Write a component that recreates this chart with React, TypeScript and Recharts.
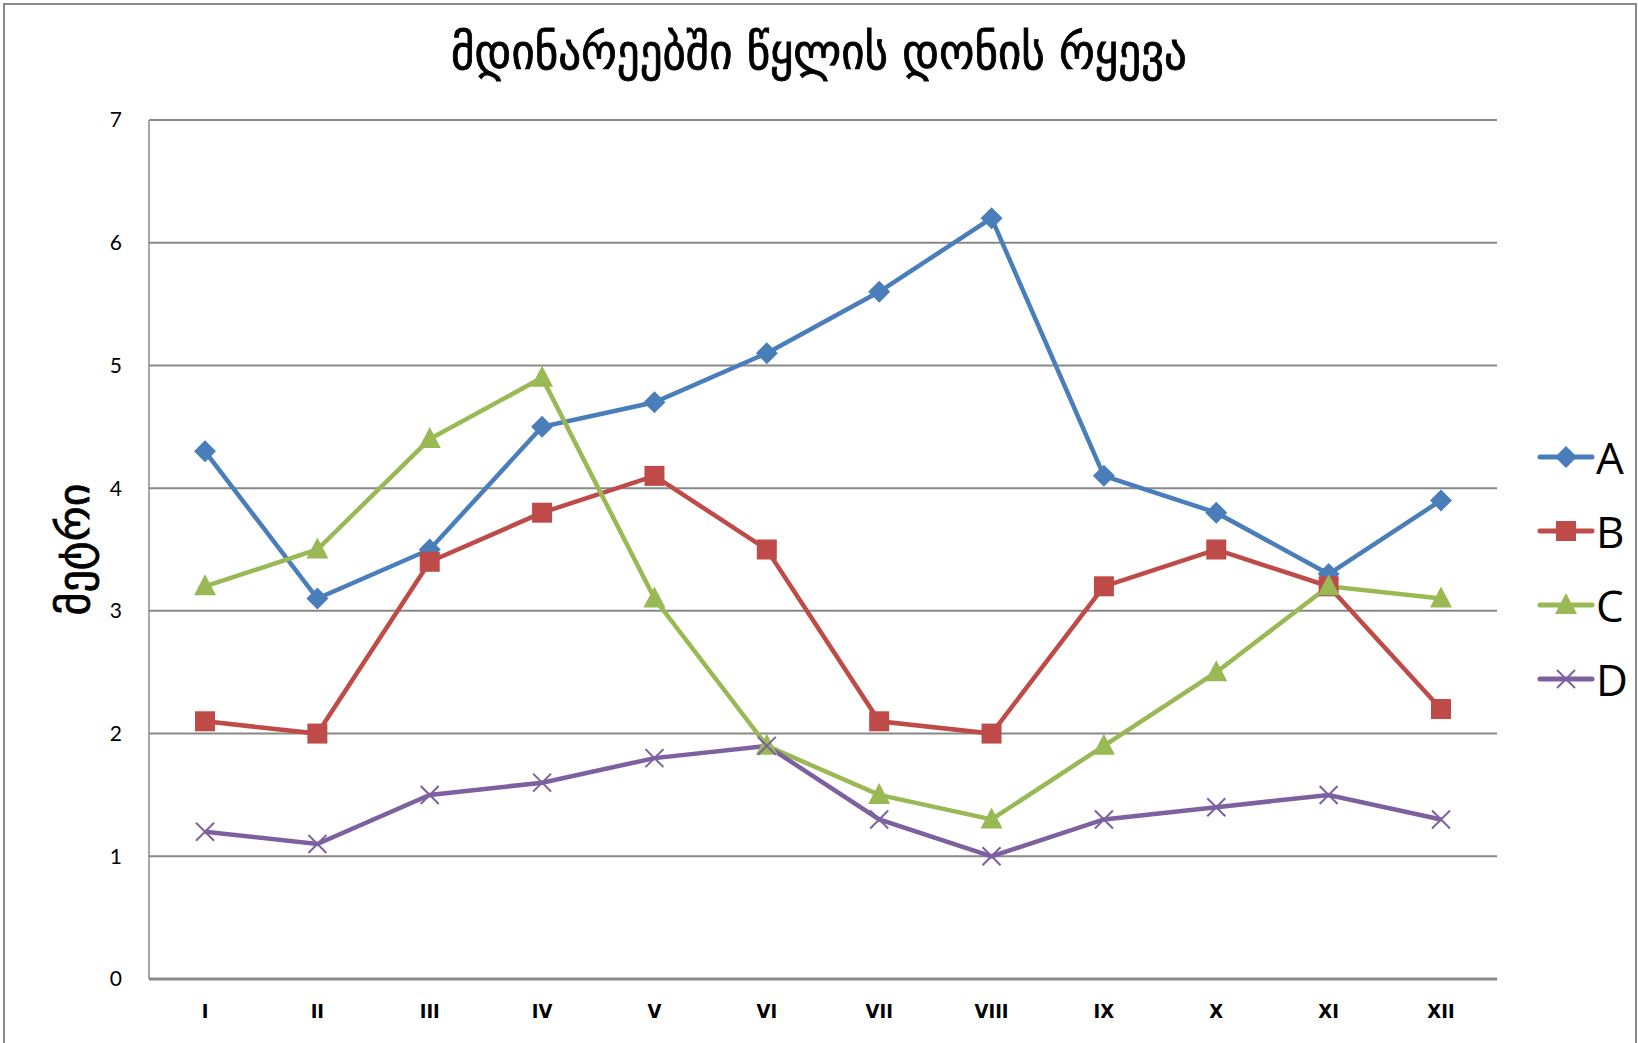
import { LineChart, Line, XAxis, YAxis, CartesianGrid } from 'recharts';

const months = ['I', 'II', 'III', 'IV', 'V', 'VI', 'VII', 'VIII', 'IX', 'X', 'XI', 'XII'];
const seriesA = [4.3, 3.1, 3.5, 4.5, 4.7, 5.1, 5.6, 6.2, 4.1, 3.8, 3.3, 3.9];
const seriesB = [2.1, 2.0, 3.4, 3.8, 4.1, 3.5, 2.1, 2.0, 3.2, 3.5, 3.2, 2.2];
const seriesC = [3.2, 3.5, 4.4, 4.9, 3.1, 1.9, 1.5, 1.3, 1.9, 2.5, 3.2, 3.1];
const seriesD = [1.2, 1.1, 1.5, 1.6, 1.8, 1.9, 1.3, 1.0, 1.3, 1.4, 1.5, 1.3];
const yTicks = [0, 1, 2, 3, 4, 5, 6, 7];

const title = 'მდინარეებში წყლის დონის რყევა';
const yLabel = 'მეტრი';

const chartData = months.map((m, i) => ({
    month: m,
    A: seriesA[i],
    B: seriesB[i],
    C: seriesC[i],
    D: seriesD[i],
}));

const colors = { A: '#4a7ebb', B: '#be4b48', C: '#98b954', D: '#7d60a0' };

const Marker = ({ kind, cx, cy, color }: { kind: string; cx: number; cy: number; color: string }) => {
    if (kind === 'diamond') {
        return <polygon points={`${cx},${cy - 11} ${cx + 11},${cy} ${cx},${cy + 11} ${cx - 11},${cy}`} fill={color} />;
    }
    if (kind === 'square') {
        return <rect x={cx - 10} y={cy - 10} width={20} height={20} fill={color} />;
    }
    if (kind === 'triangle') {
        return <polygon points={`${cx},${cy - 12} ${cx + 11},${cy + 9} ${cx - 11},${cy + 9}`} fill={color} />;
    }
    return (
        <g stroke={color} strokeWidth={2}>
            <line x1={cx - 9} y1={cy - 9} x2={cx + 9} y2={cy + 9} />
            <line x1={cx - 9} y1={cy + 9} x2={cx + 9} y2={cy - 9} />
        </g>
    );
};

const dotFor = (kind: string, color: string) => (props: any) => {
    const { cx, cy, index } = props;
    if (cx == null || cy == null) return <g key={index} />;
    return <Marker key={index} kind={kind} cx={cx} cy={cy} color={color} />;
};

const legendItems = [
    { name: 'A', kind: 'diamond', color: colors.A },
    { name: 'B', kind: 'square', color: colors.B },
    { name: 'C', kind: 'triangle', color: colors.C },
    { name: 'D', kind: 'x', color: colors.D },
];

export default function App() {
    return (
        <div style={{ position: 'absolute', left: 0, top: 0, width: 1638, height: 1043, overflow: 'hidden', background: '#fff' }}>
            <div style={{ position: 'absolute', left: 3, top: 3, width: 1630, height: 1100, border: '2px solid #8c8c8c' }} />

            <div style={{
                position: 'absolute', left: 0, width: 1638, top: 22, textAlign: 'center',
                fontFamily: '"DejaVu Sans Condensed", "DejaVu Sans"', fontSize: 50, color: '#000', lineHeight: 1.2,
                WebkitTextStroke: '0.8px #000'
            }}>
                {title}
            </div>

            <div style={{ position: 'absolute', left: 0, top: 0 }}>
                <LineChart width={1638} height={1043} data={chartData}
                    margin={{ top: 120, right: 141, bottom: 24, left: 89 }}>
                    <CartesianGrid vertical={false} stroke="#888" strokeWidth={2} />
                    <XAxis dataKey="month" axisLine={{ stroke: '#888', strokeWidth: 3 }} tickLine={false}
                        tickSize={0} tickMargin={25} height={40} interval={0} padding={{ left: 56, right: 56 }}
                        tick={{ fill: '#000', fontSize: 20, fontWeight: 'bold', fontFamily: '"DejaVu Sans Condensed", "DejaVu Sans"' }} />
                    <YAxis domain={[0, 7]} ticks={yTicks} width={60} axisLine={{ stroke: '#888', strokeWidth: 1.5 }}
                        tickLine={false} tickSize={0} tickMargin={27}
                        tick={{ fill: '#000', fontSize: 21, fontFamily: 'Lato' }}
                        label={{ value: yLabel, angle: -90, position: 'insideLeft', offset: -16,
                            style: { fontSize: 44, fill: '#000', fontFamily: '"DejaVu Sans"', textAnchor: 'middle', stroke: '#000', strokeWidth: 0.8 } }} />
                    <Line type="linear" dataKey="A" stroke={colors.A} strokeWidth={4.5} dot={dotFor('diamond', colors.A)} activeDot={false} isAnimationActive={false} />
                    <Line type="linear" dataKey="B" stroke={colors.B} strokeWidth={4.5} dot={dotFor('square', colors.B)} activeDot={false} isAnimationActive={false} />
                    <Line type="linear" dataKey="C" stroke={colors.C} strokeWidth={4.5} dot={dotFor('triangle', colors.C)} activeDot={false} isAnimationActive={false} />
                    <Line type="linear" dataKey="D" stroke={colors.D} strokeWidth={4.5} dot={dotFor('x', colors.D)} activeDot={false} isAnimationActive={false} />
                </LineChart>
            </div>

            <div style={{ position: 'absolute', left: 1536, top: 420 }}>
                {legendItems.map((item) => (
                    <div key={item.name} style={{ display: 'flex', alignItems: 'center', height: 74 }}>
                        <svg width={60} height={30}>
                            <line x1={4} y1={15} x2={56} y2={15} stroke={item.color} strokeWidth={5} strokeLinecap="round" />
                            <Marker kind={item.kind} cx={30} cy={15} color={item.color} />
                        </svg>
                        <span style={{ fontFamily: '"Open Sans", Lato', fontSize: 44, color: '#000', lineHeight: 1 }}>{item.name}</span>
                    </div>
                ))}
            </div>
        </div>
    );
}
